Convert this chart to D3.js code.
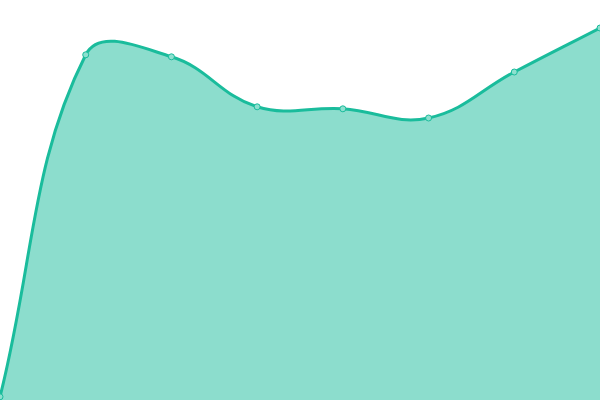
<!DOCTYPE html>
<html>
<head>
<meta charset="utf-8">
<script src="https://cdn.jsdelivr.net/npm/d3@7"></script>
<style>
  html, body { margin: 0; padding: 0; background: #fff; }
  svg { display: block; }
</style>
</head>
<body>
<div id="chart"></div>
<script>
var categories      =   [ 'A', 'B', 'C', 'D', 'E', 'F', 'G', 'H' ];
var values          =   [ 0.8, 86.3, 85.8, 73.3, 72.8, 70.5, 82, 93 ];

var chart_width     =   600;
var chart_height    =   400;
var tension         =   0.4;

// Spline curve with tension (control points scaled by neighbour distances)
function TensionCurve( context, t ){
    this._context = context;
    this._t = t;
}
TensionCurve.prototype = {
    areaStart: function(){ this._line = 0; },
    areaEnd: function(){ this._line = NaN; },
    lineStart: function(){ this._pts = []; },
    point: function( x, y ){ this._pts.push([ +x, +y ]); },
    lineEnd: function(){
        var p = this._pts, n = p.length, c = this._context, t = this._t;
        function clampX( v ){ return Math.max( 0, Math.min( chart_width, v ) ); }
        function clampY( v ){ return Math.max( 0, Math.min( chart_height, v ) ); }
        if( n ){
            if( this._line ) c.lineTo( p[0][0], p[0][1] );
            else c.moveTo( p[0][0], p[0][1] );
            var cps = p.map(function( cur, i ){
                var prev = p[i - 1] || cur, next = p[i + 1] || cur;
                var d01 = Math.hypot( cur[0] - prev[0], cur[1] - prev[1] );
                var d12 = Math.hypot( next[0] - cur[0], next[1] - cur[1] );
                var s01 = d01 / ( d01 + d12 ) || 0, s12 = d12 / ( d01 + d12 ) || 0;
                var fa = t * s01, fb = t * s12;
                return {
                    px: clampX( cur[0] - fa * ( next[0] - prev[0] ) ),
                    py: clampY( cur[1] - fa * ( next[1] - prev[1] ) ),
                    nx: clampX( cur[0] + fb * ( next[0] - prev[0] ) ),
                    ny: clampY( cur[1] + fb * ( next[1] - prev[1] ) )
                };
            });
            for( var i = 1; i < n; i++ ){
                c.bezierCurveTo( cps[i - 1].nx, cps[i - 1].ny, cps[i].px, cps[i].py, p[i][0], p[i][1] );
            }
        }
        if( this._line || ( this._line !== 0 && n === 1 ) ) c.closePath();
        this._line = 1 - this._line;
    }
};
function curveTension( context ){
    return new TensionCurve( context, tension );
}

var svg             =   d3.select( '#chart' )
    .append( 'svg' )
    .attr( 'width', chart_width )
    .attr( 'height', chart_height );

// Scales
var x_scale         =   d3.scalePoint()
    .domain( categories )
    .range([ 0, chart_width ]);

var y_scale         =   d3.scaleLinear()
    .domain([ 0, 100 ])
    .range([ chart_height, 0 ]);

var data = categories.map(function( c, i ){
    return { cat: c, val: values[i] };
});

// Area + line
var area            =   d3.area()
    .x(function( d ){ return x_scale( d.cat ); })
    .y0( y_scale( 0 ) )
    .y1(function( d ){ return y_scale( d.val ); })
    .curve( curveTension );

var line            =   d3.line()
    .x(function( d ){ return x_scale( d.cat ); })
    .y(function( d ){ return y_scale( d.val ); })
    .curve( curveTension );

svg.append( 'path' )
    .datum( data )
    .attr( 'd', area )
    .attr( 'fill', '#1abc9c' )
    .attr( 'fill-opacity', 0.5 );

svg.append( 'path' )
    .datum( data )
    .attr( 'd', line )
    .attr( 'fill', 'none' )
    .attr( 'stroke', '#1abc9c' )
    .attr( 'stroke-width', 3 );

// Points
svg.append( 'g' )
    .selectAll( 'circle' )
    .data( data )
    .enter()
    .append( 'circle' )
    .attr( 'cx', function( d ){ return x_scale( d.cat ); })
    .attr( 'cy', function( d ){ return y_scale( d.val ); })
    .attr( 'r', 3 )
    .attr( 'fill', '#8de0cf' )
    .attr( 'stroke', '#1abc9c' )
    .attr( 'stroke-width', 1 );
</script>
</body>
</html>
